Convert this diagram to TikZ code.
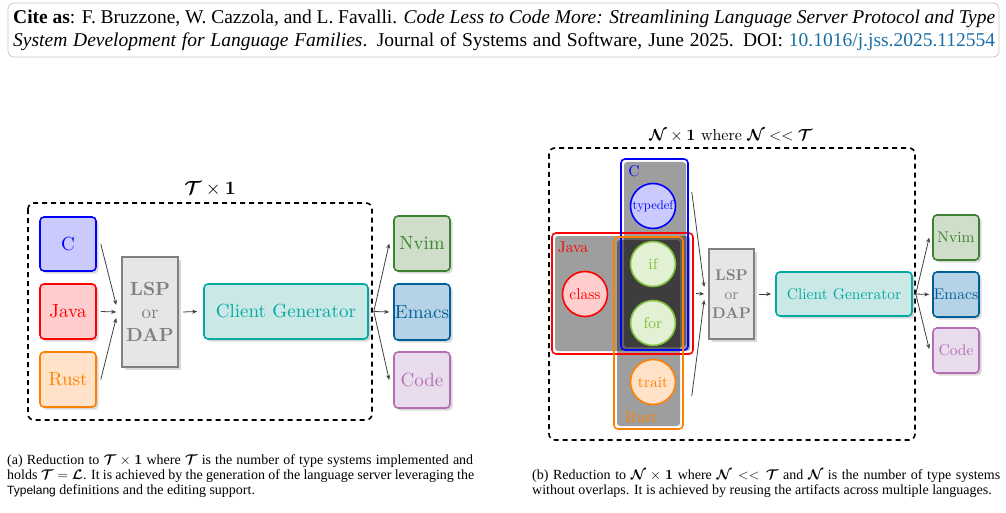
\RequirePackage{fix-cm}
\documentclass[tikz,border=0pt]{standalone}
\usepackage{amsmath,bm}
\usepackage{fontspec}
\setmainfont{lmroman10-regular.otf}[BoldFont=lmroman10-bold.otf, ItalicFont=lmroman10-italic.otf]
\newfontfamily\timesf{Liberation Serif}
\newfontfamily\arialf{Liberation Sans}
\usetikzlibrary{shadows,arrows.meta,calc}
\definecolor{Cb}{RGB}{0,0,255}\definecolor{CbF}{RGB}{202,202,255}
\definecolor{Jr}{RGB}{255,0,0}\definecolor{JrF}{RGB}{255,205,205}
\definecolor{Ro}{RGB}{255,128,0}\definecolor{RoF}{RGB}{255,226,200}
\definecolor{Nv}{RGB}{60,130,50}\definecolor{NvF}{RGB}{206,222,200}
\definecolor{Em}{RGB}{0,95,150}\definecolor{EmF}{RGB}{182,210,230}
\definecolor{Co}{RGB}{180,110,180}\definecolor{CoF}{RGB}{233,220,236}
\definecolor{Tl}{RGB}{0,170,160}\definecolor{TlF}{RGB}{202,232,230}
\definecolor{Gy}{RGB}{128,128,128}\definecolor{GyF}{RGB}{230,230,230}
\definecolor{Lg}{RGB}{128,190,60}\definecolor{LgF}{RGB}{226,240,212}
\definecolor{Lnk}{RGB}{25,110,165}
\tikzset{
  shad/.style={drop shadow={shadow xshift=2.5pt, shadow yshift=-2.5pt, opacity=0.3}},
  cbox/.style={draw=#1, fill=#1F, text=#1, rounded corners=4pt, line width=1.6pt,
    inner sep=0pt, align=center, shad},
  lspbox/.style={draw=Gy, fill=GyF, text=Gy, line width=1.6pt, inner sep=0pt, align=center, shad},
  circ/.style={circle, draw=#1, fill=#1F, text=#1, line width=1.6pt, inner sep=0pt, minimum size=45pt},
  grp/.style={draw=#1, rounded corners=4pt, line width=1.6pt, inner sep=0pt},
  glabel/.style={text=#1, inner sep=0pt},
  grayfill/.style={fill=black, opacity=0.38, rounded corners=3pt},
  arr/.style={-{Stealth[length=5pt,width=4pt]}, line width=0.8pt, draw=black!75},
  dbox/.style={dash pattern=on 5pt off 4pt, line width=1.6pt, rounded corners=6pt},
  bigf/.style={font=\fontsize{19}{23}\selectfont},
  midf/.style={font=\fontsize{15.5}{19}\selectfont},
  captxt/.style={anchor=base west, inner sep=0pt, font=\timesf\fontsize{14}{15}\selectfont},
  citetxt/.style={anchor=base west, inner sep=0pt, font=\timesf\fontsize{19.5}{23}\selectfont},
}
\begin{document}
\begin{tikzpicture}[x=1pt,y=-1pt]
\useasboundingbox (0,0) rectangle (1006,513);
% citation box
\draw[draw=black!22, rounded corners=6pt, line width=0.8pt] (8,3) rectangle (999,57);
\node[citetxt] (cite1) at (13,24) {\makebox[982pt][s]{\textbf{Cite as}: F. Bruzzone, W. Cazzola, and L. Favalli. \textit{Code Less to Code More: Streamlining Language Server Protocol and Type}}};
\node[citetxt] (cite2) at (13,47) {\makebox[982pt][s]{\textit{System Development for Language Families}. Journal of Systems and Software, June 2025. DOI: \textcolor{Lnk}{10.1016/j.jss.2025.112554}}};

% ---------------- (a)
\draw[dbox] (28,203) rectangle (372,420);
\node[bigf] (ta) at (210,189) {$\bm{\mathcal{T}}\times\mathbf{1}$};
\begin{scope}[bigf]
\node[cbox=Cb, minimum width=56pt, minimum height=54pt] (c) at (68,244) {C};
\node[cbox=Jr, minimum width=56pt, minimum height=55pt] (java) at (68,311.5) {Java};
\node[cbox=Ro, minimum width=56pt, minimum height=55pt] (rust) at (68,379.5) {Rust};
\node[lspbox, minimum width=56pt, minimum height=110pt] (lsp) at (150,312) {\textbf{LSP}\\or\\\textbf{DAP}};
\node[cbox=Tl, minimum width=164pt, minimum height=55pt] (cg) at (286,311.5) {Client Generator};
\node[cbox=Nv, minimum width=56pt, minimum height=55pt] (nvim) at (422,243.5) {Nvim};
\node[cbox=Em, minimum width=56pt, minimum height=56pt] (emacs) at (422,312) {Emacs};
\node[cbox=Co, minimum width=56pt, minimum height=56pt] (code) at (422,380) {Code};
\end{scope}
\draw[arr] ([xshift=4pt]c.east) -- ([xshift=-5pt,yshift=7pt]lsp.west);
\draw[arr] ([xshift=4pt]java.east) -- ([xshift=-5pt]lsp.west);
\draw[arr] ([xshift=4pt]rust.east) -- ([xshift=-5pt,yshift=-6pt]lsp.west);
\draw[arr] ([xshift=4pt]lsp.east) -- ([xshift=-6pt]cg.west);
\draw[arr] ([xshift=5pt]cg.east) -- ([xshift=-4pt]nvim.west);
\draw[arr] ([xshift=5pt]cg.east) -- ([xshift=-4pt]emacs.west);
\draw[arr] ([xshift=5pt]cg.east) -- ([xshift=-4pt]code.west);

% ---------------- (b)
\draw[dbox] (549,148) rectangle (915,440);
\node[font=\fontsize{16}{19}\selectfont] (tb) at (731,136) {$\bm{\mathcal{N}}\times\mathbf{1}$ where $\bm{\mathcal{N}} << \bm{\mathcal{T}}$};
\fill[grayfill] (624,162) rectangle (686,347);
\fill[grayfill] (555,236) rectangle (690,351);
\fill[grayfill] (617,240) rectangle (680,426);
\node[grp=Jr, minimum width=141pt, minimum height=121pt] (jgrp) at (622.5,293.5) {};
\node[grp=Cb, minimum width=67pt, minimum height=191pt] (cgrp) at (654.5,254.5) {};
\node[grp=Ro, minimum width=69pt, minimum height=192pt] (rgrp) at (648.5,333) {};
\begin{scope}[midf]
\node[glabel=Cb] (clab) at (634,171) {C};
\node[glabel=Jr] (jlab) at (573,247) {Java};
\node[glabel=Ro] (rlab) at (641,417) {Rust};
\node[circ=Cb, font=\fontsize{12.6}{14}\selectfont] (typedef) at (653,206) {typedef};
\node[circ=Lg] (if) at (653,264) {if};
\node[circ=Lg] (for) at (653,323) {for};
\node[circ=Ro] (trait) at (653,382) {trait};
\node[circ=Jr] (class) at (585,294) {class};
\node[lspbox, minimum width=45pt, minimum height=90pt] (lsp2) at (731.5,294) {\textbf{LSP}\\or\\\textbf{DAP}};
\node[cbox=Tl, minimum width=136pt, minimum height=44pt] (cg2) at (844,294) {Client Generator};
\node[cbox=Nv, minimum width=46pt, minimum height=45pt] (nvim2) at (956,237.5) {Nvim};
\node[cbox=Em, minimum width=46pt, minimum height=45pt] (emacs2) at (956,294.5) {Emacs};
\node[cbox=Co, minimum width=46pt, minimum height=45pt] (code2) at (956,350.5) {Code};
\end{scope}
\draw[arr] ([xshift=3pt,yshift=-34pt]cgrp.north east) -- ([xshift=-4pt,yshift=7pt]lsp2.west);
\draw[arr] ([xshift=2pt]jgrp.east) -- ([xshift=-4pt]lsp2.west);
\draw[arr] ([xshift=8pt,yshift=34pt]rgrp.south east) -- ([xshift=-4pt,yshift=-6pt]lsp2.west);
\draw[arr] ([xshift=4pt]lsp2.east) -- ([xshift=-4pt]cg2.west);
\draw[arr] ([xshift=3pt]cg2.east) -- ([xshift=-3pt]nvim2.west);
\draw[arr] ([xshift=3pt]cg2.east) -- ([xshift=-3pt]emacs2.west);
\draw[arr] ([xshift=3pt]cg2.east) -- ([xshift=-3pt,yshift=1.5pt]code2.west);

% ---------------- captions
\node[captxt] (ca1) at (7,464) {\makebox[466pt][s]{(a) Reduction to $\bm{\mathcal{T}}\times\mathbf{1}$ where $\bm{\mathcal{T}}$ is the number of type systems implemented and}};
\node[captxt] (ca2) at (7,479) {\makebox[467pt][s]{holds $\bm{\mathcal{T}}=\bm{\mathcal{L}}$. It is achieved by the generation of the language server leveraging the}};
\node[captxt] (ca3) at (7,494) {{\arialf\fontsize{12}{15}\selectfont Typelang} definitions and the editing support.};
\node[captxt] (cb1) at (532,479) {\makebox[468pt][s]{(b) Reduction to $\bm{\mathcal{N}}\times\mathbf{1}$ where $\bm{\mathcal{N}} << \bm{\mathcal{T}}$ and $\bm{\mathcal{N}}$ is the number of type systems}};
\node[captxt] (cb2) at (532,494) {without overlaps. It is achieved by reusing the artifacts across multiple languages.};
\end{tikzpicture}
\end{document}
